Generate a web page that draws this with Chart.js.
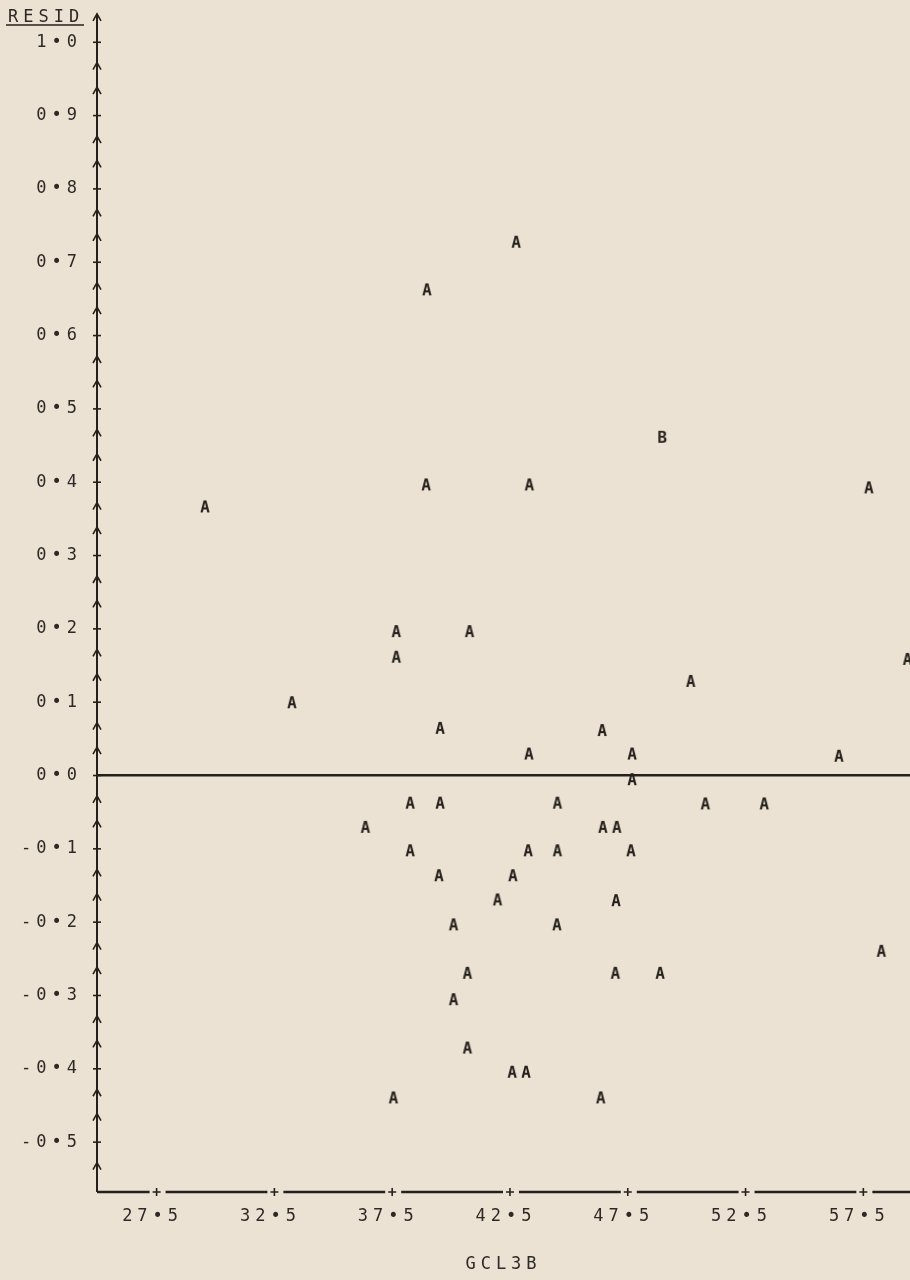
<!DOCTYPE html>
<html>
<head>
<meta charset="utf-8">
<script src="https://cdn.jsdelivr.net/npm/chart.js@4.4.1/dist/chart.umd.min.js"></script>
<style>
  html, body { margin: 0; padding: 0; background: #ebe2d3; }
  #wrap { width: 910px; height: 1280px; }
</style>
</head>
<body>
<div id="wrap"><canvas id="resid-plot" width="910" height="1280"></canvas></div>
<script>
// residuals against GCL3B
var gcl3b = [29.55, 33.24, 38.97, 42.76, 38.94, 43.32, 57.73, 37.67, 40.78, 37.67,
             59.37, 50.17, 39.53, 46.41, 43.30, 47.68, 56.46, 47.68, 38.26, 39.53,
             44.51, 50.79, 53.29, 36.36, 46.44, 47.03, 38.26, 43.27, 44.51, 47.63,
             39.48, 42.62, 41.97, 47.00, 40.10, 44.49, 58.26, 40.69, 46.97, 48.87,
             40.10, 40.69, 42.59, 43.18, 37.55, 46.35];
var resid = [0.367, 0.100, 0.663, 0.728, 0.397, 0.397, 0.393, 0.197, 0.197, 0.162,
             0.159, 0.129, 0.065, 0.062, 0.030, 0.030, 0.027, -0.005, -0.037, -0.037,
             -0.037, -0.038, -0.038, -0.070, -0.070, -0.070, -0.102, -0.102, -0.102, -0.102,
             -0.136, -0.136, -0.169, -0.170, -0.203, -0.203, -0.239, -0.269, -0.269, -0.269,
             -0.305, -0.371, -0.404, -0.404, -0.439, -0.439];

// "B" = two observations on the same print position
var gcl3bB = [48.96];
var residB = [0.462];

var xTicks = [27.5, 32.5, 37.5, 42.5, 47.5, 52.5, 57.5];
var xTickLabels = ['27.5', '32.5', '37.5', '42.5', '47.5', '52.5', '57.5'];
var yTicks = [-0.5, -0.4, -0.3, -0.2, -0.1, 0.0, 0.1, 0.2, 0.3, 0.4, 0.5, 0.6, 0.7, 0.8, 0.9, 1.0];
var yTickLabels = ['-0.5', '-0.4', '-0.3', '-0.2', '-0.1', '0.0', '0.1', '0.2',
                   '0.3', '0.4', '0.5', '0.6', '0.7', '0.8', '0.9', '1.0'];

var paper = '#ebe2d3';
var ink = '#26201c';
var labelInk = '#2e2925';
var mono = 'DejaVu Sans Mono';

function printerText(s) {
    return s.replace('.', '\u2022');
}

// small canvas with one printer character, used as point style
function printerChar(ch) {
    var c = document.createElement('canvas');
    c.width = 14;
    c.height = 16;
    var g = c.getContext('2d');
    g.fillStyle = ink;
    g.font = 'bold 16px ' + mono;
    g.textAlign = 'center';
    g.textBaseline = 'alphabetic';
    g.fillText(ch, 7, 14);
    return c;
}

// keep the plot box where the printout has it (no label overhang padding)
function noScalePadding(scale) {
    scale.paddingTop = 0;
    scale.paddingBottom = 0;
    scale.paddingLeft = 0;
    scale.paddingRight = 0;
}

var printerAxes = {
    id: 'printerAxes',
    beforeDraw: function (chart) {
        var ctx = chart.ctx;
        ctx.save();
        ctx.fillStyle = paper;
        ctx.fillRect(0, 0, chart.width, chart.height);
        ctx.restore();
        ctx.letterSpacing = '5px';
    },
    afterDraw: function (chart) {
        var ctx = chart.ctx;
        var xs = chart.scales.x;
        var ys = chart.scales.y;
        var area = chart.chartArea;
        var x0 = area.left;
        var yb = area.bottom;

        ctx.save();
        ctx.strokeStyle = ink;
        ctx.fillStyle = ink;

        // vertical axis, "+" every 0.1 and arrows in between
        var topY = ys.getPixelForValue(31 / 30) - 4;
        ctx.lineWidth = 2;
        ctx.beginPath();
        ctx.moveTo(x0, yb);
        ctx.lineTo(x0, topY);
        ctx.stroke();
        ctx.lineWidth = 1.6;
        for (var k = -16; k <= 31; k++) {
            var py = ys.getPixelForValue(k / 30);
            ctx.beginPath();
            if (k % 3 === 0) {
                ctx.moveTo(x0 - 4, py);
                ctx.lineTo(x0 + 4, py);
            } else {
                ctx.moveTo(x0 - 4, py + 3);
                ctx.lineTo(x0, py - 4);
                ctx.lineTo(x0 + 4, py + 3);
            }
            ctx.stroke();
        }

        // horizontal axis, broken around each "+"
        ctx.lineWidth = 2.5;
        var start = x0;
        xTicks.forEach(function (v) {
            var px = xs.getPixelForValue(v);
            ctx.beginPath();
            ctx.moveTo(start, yb);
            ctx.lineTo(px - 7, yb);
            ctx.stroke();
            ctx.lineWidth = 1.6;
            ctx.beginPath();
            ctx.moveTo(px - 4, yb);
            ctx.lineTo(px + 4, yb);
            ctx.moveTo(px, yb - 4);
            ctx.lineTo(px, yb + 4);
            ctx.stroke();
            ctx.lineWidth = 2.5;
            start = px + 9;
        });
        ctx.beginPath();
        ctx.moveTo(start, yb);
        ctx.lineTo(area.right, yb);
        ctx.stroke();

        // y title, underlined as on the printout
        ctx.fillStyle = labelInk;
        ctx.font = '17px ' + mono;
        ctx.textAlign = 'left';
        ctx.textBaseline = 'alphabetic';
        ctx.fillText('RESID', 8, 22);
        ctx.lineWidth = 1.5;
        ctx.beginPath();
        ctx.moveTo(6, 25);
        ctx.lineTo(84, 25);
        ctx.stroke();
        ctx.restore();
    }
};

var ctx1 = document.getElementById('resid-plot').getContext('2d');
var tickFont = { family: mono, size: 17 };

new Chart(ctx1, {
    type: 'scatter',
    data: {
        datasets: [{
            label: 'A',
            data: gcl3b.map(function (x, i) { return { x: x, y: resid[i] }; }),
            pointStyle: printerChar('A'),
            clip: false
        }, {
            label: 'B',
            data: gcl3bB.map(function (x, i) { return { x: x, y: residB[i] }; }),
            pointStyle: printerChar('B'),
            clip: false
        }]
    },
    options: {
        responsive: false,
        animation: false,
        devicePixelRatio: 1,
        layout: { autoPadding: false, padding: { top: 10, left: 0, right: 0, bottom: 0 } },
        plugins: {
            legend: { display: false },
            tooltip: { enabled: false }
        },
        scales: {
            x: {
                type: 'linear',
                min: 24.97,
                max: 59.48,
                afterBuildTicks: function (scale) {
                    scale.ticks = xTicks.map(function (v) { return { value: v }; });
                },
                afterFit: function (scale) {
                    scale.height = 88;
                    noScalePadding(scale);
                },
                grid: { display: false, drawTicks: false },
                border: { display: false },
                ticks: {
                    font: tickFont,
                    color: labelInk,
                    padding: 14,
                    labelOffset: -4,
                    maxRotation: 0,
                    autoSkip: false,
                    callback: function (value, index) { return printerText(xTickLabels[index]); }
                },
                title: {
                    display: true,
                    text: 'GCL3B',
                    font: tickFont,
                    color: labelInk,
                    padding: { top: 0, bottom: 5 }
                }
            },
            y: {
                type: 'linear',
                min: -0.568,
                max: 1.044,
                afterBuildTicks: function (scale) {
                    scale.ticks = yTicks.map(function (v) { return { value: v }; });
                },
                afterFit: function (scale) {
                    scale.width = 97;
                    noScalePadding(scale);
                },
                grid: {
                    color: function (c) { return c.tick && c.tick.value === 0 ? ink : 'transparent'; },
                    lineWidth: 2.5,
                    drawTicks: false
                },
                border: { display: false },
                ticks: {
                    font: tickFont,
                    color: labelInk,
                    padding: 15,
                    autoSkip: false,
                    callback: function (value, index) { return printerText(yTickLabels[index]); }
                }
            }
        }
    },
    plugins: [printerAxes]
});
</script>
</body>
</html>
